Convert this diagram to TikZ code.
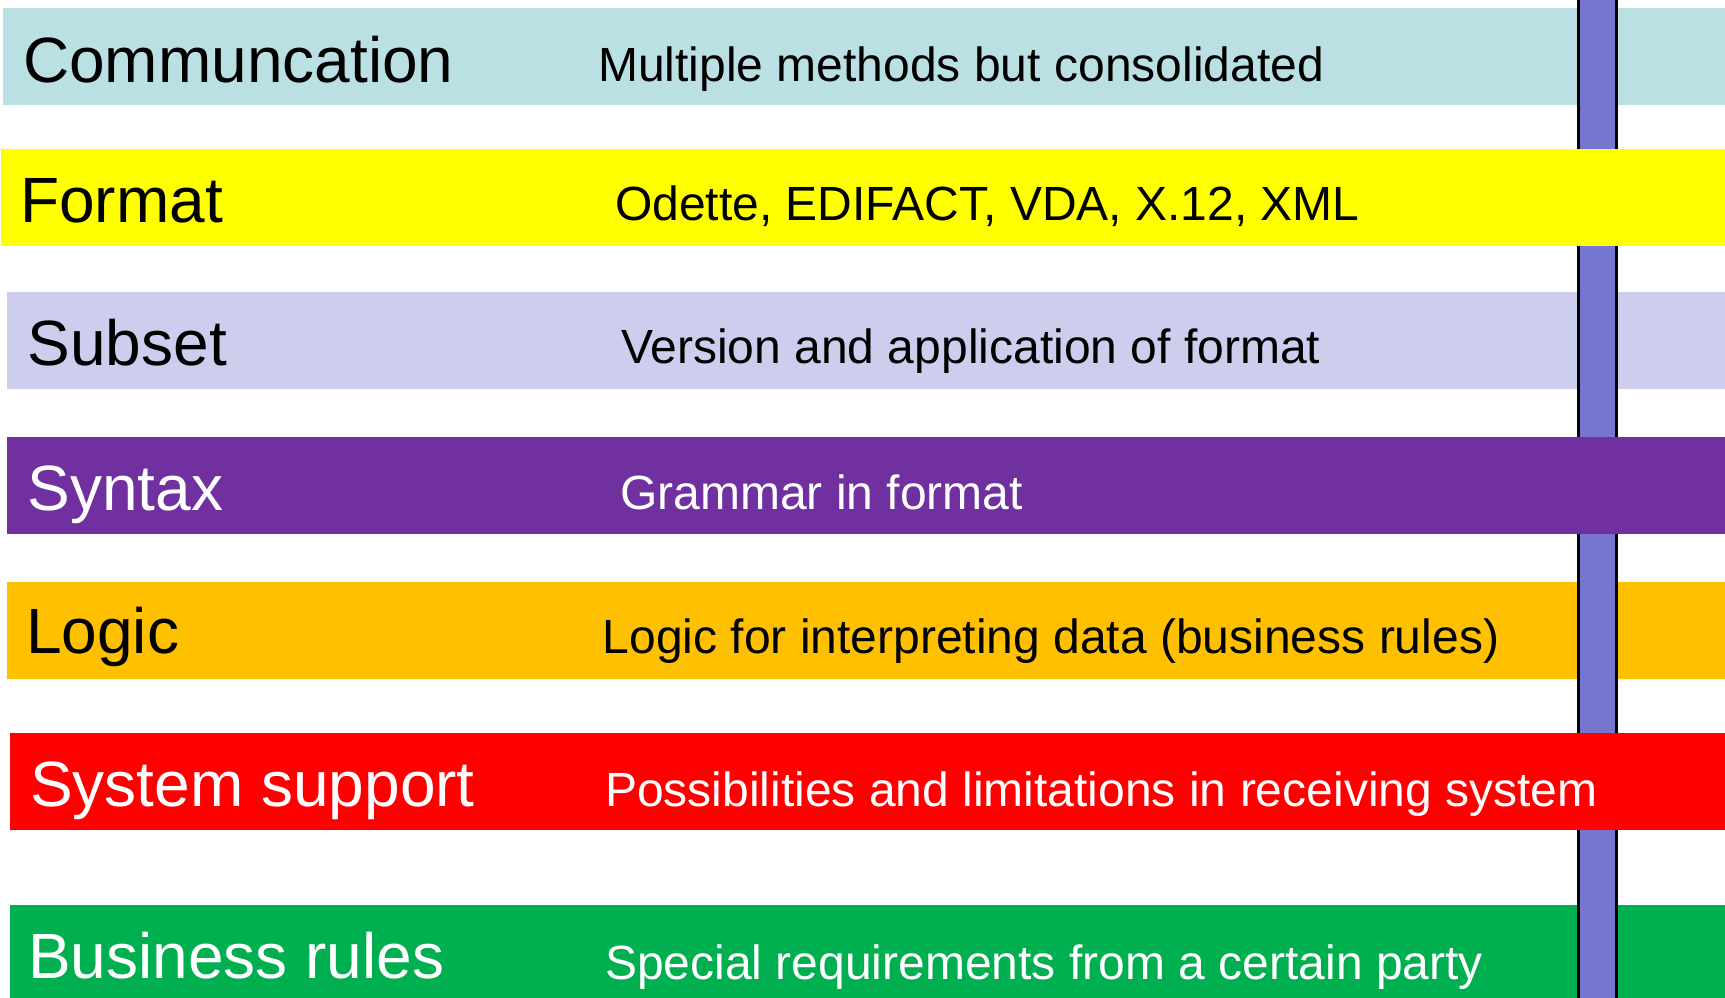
\documentclass[tikz,border=0pt]{standalone}
\usepackage{fontspec}
\setmainfont{Liberation Sans}
\definecolor{bandcyan}{HTML}{BBE0E3}
\definecolor{bandyellow}{HTML}{FFFF00}
\definecolor{bandlav}{HTML}{CDCDED}
\definecolor{bandpurple}{HTML}{7030A0}
\definecolor{bandorange}{HTML}{FFC000}
\definecolor{bandred}{HTML}{FF0000}
\definecolor{bandgreen}{HTML}{00B050}
\definecolor{barfill}{HTML}{7676D1}
\tikzset{
  title/.style={anchor=base west, inner sep=0pt, font=\fontsize{64}{64}\selectfont},
  desc/.style={anchor=base west, inner sep=0pt, font=\fontsize{48}{48}\selectfont},
  bar/.style={fill=barfill, draw=black, line width=3pt}
}
\begin{document}
\begin{tikzpicture}[x=1pt, y=-1pt]
  \useasboundingbox (0,0) rectangle (1725,997);
  \clip (0,0) rectangle (1725,997);

  % bands lying under the vertical bar
  \fill[bandcyan]   (3,8)    rectangle (1725,105);
  \fill[bandlav]    (7,292)  rectangle (1725,389);
  \fill[bandorange] (7,582)  rectangle (1725,679);
  \fill[bandgreen]  (10,905) rectangle (1725,1000);

  % vertical bar
  \draw[bar] (1578.5,-10) rectangle (1616.5,1010);

  % bands lying over the vertical bar
  \fill[bandyellow] (1,149)  rectangle (1725,246);
  \fill[bandpurple] (7,437)  rectangle (1725,534);
  \fill[bandred]    (10,733) rectangle (1725,830);

  % layer titles
  \node[title] (t1) at (23,82)  {Communcation};
  \node[title] (t2) at (20,222) {Format};
  \node[title] (t3) at (27.5,365) {Subset};
  \node[title, text=white] (t4) at (27.5,510) {Syntax};
  \node[title] (t5) at (26,653) {Logic};
  \node[title, text=white] (t6) at (30,806) {System support};
  \node[title, text=white] (t7) at (28,978) {Business rules};

  % layer descriptions
  \node[desc] (d1) at (598,81.5) {Multiple methods but consolidated};
  \node[desc] (d2) at (615,220) {Odette, EDIFACT, VDA, X.12, XML};
  \node[desc] (d3) at (621,363) {Version and application of format};
  \node[desc, text=white] (d4) at (620,509) {Grammar in format};
  \node[desc] (d5) at (602.5,653) {Logic for interpreting data (business rules)};
  \node[desc, text=white] (d6) at (605,806) {Possibilities and limitations in receiving system};
  \node[desc, text=white] (d7) at (605,979) {Special requirements from a certain party};
\end{tikzpicture}
\end{document}
